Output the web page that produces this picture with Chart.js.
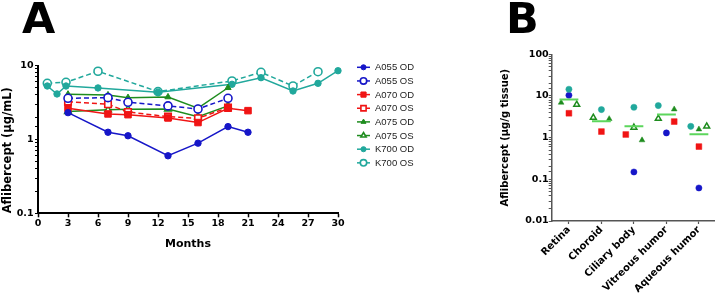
<!DOCTYPE html>
<html>
<head>
<meta charset="utf-8">
<script src="https://cdn.jsdelivr.net/npm/chart.js@4.4.0/dist/chart.umd.min.js"></script>
<style>
  html, body { margin: 0; padding: 0; background: #fff; }
  #wrap { position: relative; width: 720px; height: 302px; overflow: hidden; }
  #chartA { position: absolute; left: 0; top: 0; }
  #chartB { position: absolute; left: 460px; top: 0; }
</style>
</head>
<body>
<div id="wrap">
  <canvas id="chartA" width="460" height="302"></canvas>
  <canvas id="chartB" width="260" height="302"></canvas>
</div>
<script>
// ---- Panel A: aflibercept over time (µg/mL) ----
const monthsA = [3, 7, 9, 13, 16, 19, 21];
const monthsK700OD = [0.93, 1.9, 2.8, 6, 12, 19.4, 22.3, 25.5, 28, 30];
const monthsK700OS = [0.93, 2.8, 6, 12, 19.4, 22.3, 25.5, 28];
const a055OD = [2.30, 1.25, 1.12, 0.60, 0.89, 1.49, 1.25];
const a055OS = [3.60, 3.67, 3.18, 2.84, 2.58, 3.60];
const a070OD = [2.64, 2.21, 2.16, 1.95, 1.69, 2.64, 2.45];
const a070OS = [3.24, 2.99, 2.35, 2.03, 1.93, 2.69];
const a075OD = [4.08, 3.99, 3.67, 3.75, 2.64, 5.00];
const a075OS = [2.38, 2.51, 2.56, 2.58, 2.03, 2.84];
const k700OD = [5.28, 4.12, 5.28, 4.97, 4.35, 5.57, 6.84, 4.52, 5.74, 8.50];
const k700OS = [5.74, 5.93, 8.36, 4.43, 6.18, 8.09, 5.28, 8.24];
const yTicksA = [0.1, 1, 10];

// ---- Panel B: tissue levels (µg/g tissue) ----
const tissues = ['Retina', 'Choroid', 'Ciliary body', 'Vitreous humor', 'Aqueous humor'];
const k700B = [14.5, 4.72, 5.36, 5.89, 1.87];
const a055B = [10.4, null, 0.15, 1.3, 0.062];
const a075ODB = [6.95, 2.81, 0.87, 4.8, 1.59];
const a075OSB = [6.2, 3.03, 1.75, 2.87, 1.87];
const a070B = [3.85, 1.4, 1.19, 2.43, 0.61];
const meanB = [8.2, 2.47, 1.87, 3.58, 1.21];
const yTicksB = [0.01, 0.1, 1, 10, 100];

// side-by-side dodge of overlapping dots (fraction of a category)
const dodgeB = {
  k700: [0, 0, 0, -0.25, -0.25],
  a055: [0, 0, 0, 0, 0],
  a075OD: [-0.24, 0.24, 0.25, 0.24, 0],
  a075OS: [0.24, -0.25, 0, -0.25, 0.24],
  a070: [0, 0, -0.25, 0.24, 0]
};

const BLUE = '#1616c8';
const RED = '#f01414';
const GREEN = '#1e8c1e';
const TEAL = '#21a89c';
const MEAN = '#5cd65c';

const tickFont = { family: 'DejaVu Sans', weight: 'bold', size: 9.5 };

function isPow10(v) {
  const l = Math.log10(v);
  return Math.abs(l - Math.round(l)) < 1e-9;
}
function logLabel(v) {
  if (!isPow10(v)) return '';
  return String(Math.pow(10, Math.round(Math.log10(v))));
}

function seriesA(label, xs, ys, color, style, filled, dashed, radius) {
  return {
    label: label,
    data: ys.map((v, i) => ({ x: xs[i], y: v })),
    borderColor: color,
    backgroundColor: color,
    pointBackgroundColor: filled ? color : '#fff',
    pointBorderColor: color,
    pointBorderWidth: filled ? 1 : 1.6,
    pointStyle: style,
    pointRadius: radius,
    borderWidth: 1.5,
    borderDash: dashed ? [5, 3] : [],
    showLine: true,
    clip: false
  };
}

const letterPlugin = {
  id: 'letter',
  afterDraw(chart, args, opts) {
    const ctx = chart.ctx;
    ctx.save();
    ctx.font = 'bold 43px "DejaVu Sans"';
    ctx.fillStyle = '#000';
    ctx.textBaseline = 'alphabetic';
    ctx.fillText(opts.text, opts.x, opts.y);
    ctx.restore();
  }
};

const legendA = {
  id: 'legendA',
  afterDraw(chart) {
    const ctx = chart.ctx;
    ctx.save();
    chart.data.datasets.forEach((ds, i) => {
      const y = 67.3 + i * 13.65;
      ctx.setLineDash([]);
      ctx.strokeStyle = ds.borderColor;
      ctx.lineWidth = 1.5;
      ctx.beginPath();
      ctx.moveTo(357, y);
      ctx.lineTo(370, y);
      ctx.stroke();
      ctx.fillStyle = ds.pointBackgroundColor;
      ctx.lineWidth = ds.pointBorderWidth;
      Chart.helpers.drawPoint(ctx, {
        pointStyle: ds.pointStyle,
        radius: ds.pointRadius * 0.8,
        borderWidth: ds.pointBorderWidth
      }, 363.5, y);
      ctx.fillStyle = '#222';
      ctx.font = '9.5px "Liberation Sans", Arial';
      ctx.textBaseline = 'middle';
      ctx.fillText(ds.label, 375, y + 0.5);
    });
    ctx.restore();
  }
};

new Chart(document.getElementById('chartA'), {
  type: 'scatter',
  data: {
    datasets: [
      seriesA('A055 OD', monthsA, a055OD, BLUE, 'circle', true, false, 3.2),
      seriesA('A055 OS', monthsA, a055OS, BLUE, 'circle', false, true, 4),
      seriesA('A070 OD', monthsA, a070OD, RED, 'rect', true, false, 4.6),
      seriesA('A070 OS', monthsA, a070OS, RED, 'rect', false, true, 4.6),
      seriesA('A075 OD', monthsA, a075OD, GREEN, 'triangle', true, false, 3.6),
      seriesA('A075 OS', monthsA, a075OS, GREEN, 'triangle', false, false, 3.8),
      seriesA('K700 OD', monthsK700OD, k700OD, TEAL, 'circle', true, false, 3.2),
      seriesA('K700 OS', monthsK700OS, k700OS, TEAL, 'circle', false, true, 4)
    ]
  },
  options: {
    responsive: false,
    animation: false,
    events: [],
    layout: { padding: { top: 65.5, right: 122, bottom: 47.6, left: 0 } },
    plugins: {
      legend: { display: false },
      tooltip: { enabled: false },
      letter: { text: 'A', x: 22, y: 33 }
    },
    scales: {
      x: {
        type: 'linear', min: 0, max: 30,
        ticks: { stepSize: 3, color: '#000', font: tickFont, padding: 1 },
        grid: { drawOnChartArea: false, tickLength: 4, color: '#000', tickWidth: 1.5 },
        border: { color: '#000', width: 2 },
        title: { display: true, text: 'Months', color: '#000',
                 font: { family: 'DejaVu Sans', weight: 'bold', size: 11 }, padding: { top: 0, bottom: 4 } },
        afterFit: s => { s.height = 41.1; }
      },
      y: {
        type: 'logarithmic', min: 0.1, max: 10,
        afterBuildTicks: s => { s.ticks = s.ticks.filter(t => t.value >= 0.1 && t.value <= 10); },
        ticks: { autoSkip: false, color: '#000', font: tickFont, padding: 1.5, callback: v => logLabel(v) },
        grid: { drawOnChartArea: false, tickLength: 3, color: '#000', tickWidth: 1.2 },
        border: { color: '#000', width: 2 },
        title: { display: true, text: 'Aflibercept (µg/mL)', align: 'start', color: '#000',
                 font: { family: 'DejaVu Sans', weight: 'bold', size: 11.5 }, padding: { top: 1, bottom: 0 } },
        afterFit: s => { s.width = 38; }
      }
    }
  },
  plugins: [letterPlugin, legendA]
});

// ---- Panel B ----
function seriesB(label, vals, dodge, color, style, filled, radius) {
  const pts = [];
  vals.forEach((v, i) => { if (v !== null) pts.push({ x: i + dodge[i], y: v }); });
  return {
    label: label,
    data: pts,
    borderColor: color,
    backgroundColor: filled ? color : '#fff',
    pointBorderWidth: filled ? 0.5 : 1.5,
    pointStyle: style,
    pointRadius: radius,
    showLine: false,
    clip: false
  };
}

const meanPts = [];
meanB.forEach((m, i) => {
  meanPts.push({ x: i - 0.29, y: m }, { x: i + 0.29, y: m }, { x: i, y: null });
});

new Chart(document.getElementById('chartB'), {
  type: 'scatter',
  data: {
    datasets: [
      { label: 'Mean', data: meanPts, showLine: true, borderColor: MEAN, borderWidth: 2,
        pointRadius: 0, spanGaps: false, clip: false },
      seriesB('K700', k700B, dodgeB.k700, TEAL, 'circle', true, 3.1),
      seriesB('A055', a055B, dodgeB.a055, BLUE, 'circle', true, 3.1),
      seriesB('A075 OD', a075ODB, dodgeB.a075OD, GREEN, 'triangle', true, 3.3),
      seriesB('A075 OS', a075OSB, dodgeB.a075OS, GREEN, 'triangle', false, 3.4),
      seriesB('A070', a070B, dodgeB.a070, RED, 'rect', true, 4.1)
    ]
  },
  options: {
    responsive: false,
    animation: false,
    events: [],
    layout: { padding: { top: 54.3, right: 1.7, bottom: 0, left: 0 } },
    plugins: {
      legend: { display: false },
      tooltip: { enabled: false },
      letter: { text: 'B', x: 46, y: 33 }
    },
    scales: {
      x: {
        type: 'linear', min: -0.53, max: 4.48,
        afterBuildTicks: s => { s.ticks = tissues.map((t, i) => ({ value: i })); },
        ticks: { autoSkip: false, minRotation: 45, maxRotation: 45, color: '#000',
                 font: { family: 'DejaVu Sans', weight: 'bold', size: 10 }, padding: 0,
                 callback: v => tissues[v] },
        grid: { drawOnChartArea: false, tickLength: 3, color: '#555', tickWidth: 1.2 },
        border: { color: '#555', width: 1.5 },
        afterFit: s => { s.height = 81; }
      },
      y: {
        type: 'logarithmic', min: 0.01, max: 100,
        afterBuildTicks: s => { s.ticks = s.ticks.filter(t => t.value >= 0.01 && t.value <= 100); },
        ticks: { autoSkip: false, color: '#000', font: tickFont, padding: 0, callback: v => logLabel(v) },
        grid: { drawOnChartArea: false, tickLength: 3, color: '#555', tickWidth: 1 },
        border: { color: '#555', width: 1.5 },
        title: { display: true, text: 'Aflibercept (µg/g tissue)', color: '#000',
                 font: { family: 'DejaVu Sans', weight: 'bold', size: 10 }, padding: { top: 39.5, bottom: 0 } },
        afterFit: s => { s.width = 91.7; }
      }
    }
  },
  plugins: [letterPlugin]
});
</script>
</body>
</html>
